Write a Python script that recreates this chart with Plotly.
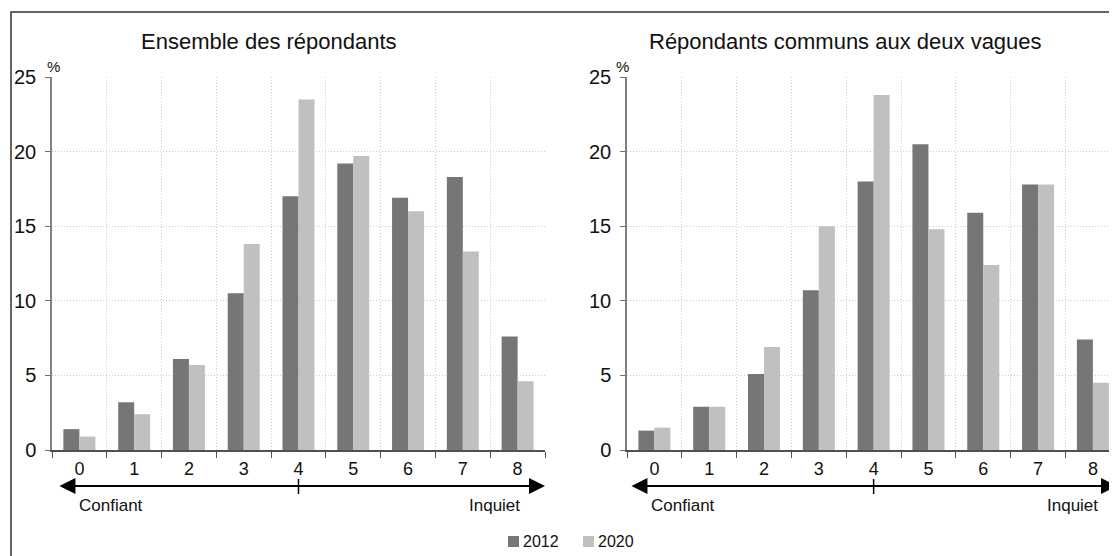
import plotly.graph_objects as go

categories = ["0", "1", "2", "3", "4", "5", "6", "7", "8"]
series_names = ["2012", "2020"]
left_2012 = [1.4, 3.2, 6.1, 10.5, 17.0, 19.2, 16.9, 18.3, 7.6]
left_2020 = [0.9, 2.4, 5.7, 13.8, 23.5, 19.7, 16.0, 13.3, 4.6]
right_2012 = [1.3, 2.9, 5.1, 10.7, 18.0, 20.5, 15.9, 17.8, 7.4]
right_2020 = [1.5, 2.9, 6.9, 15.0, 23.8, 14.8, 12.4, 17.8, 4.5]
panel_titles = ["Ensemble des répondants", "Répondants communs aux deux vagues"]
scale_labels = ["Confiant", "Inquiet"]
y_ticks = [0, 5, 10, 15, 20, 25]

# page body has an 8px margin; design coordinates below are screen pixels
OFF = 8
W, H = 1117 - OFF, 556 - OFF
FONT = "Liberation Sans, Arial, sans-serif"
C2012 = "#767676"
C2020 = "#c0c0c0"
COLORS = [C2012, C2020]
GRID = "#cccccc"

fig = go.Figure()
for vals, name, col in [(left_2012, series_names[0], C2012), (left_2020, series_names[1], C2020)]:
    fig.add_trace(go.Bar(x=categories, y=vals, name=name, marker=dict(color=col, line=dict(width=0)),
                         xaxis="x", yaxis="y", showlegend=False))
for vals, name, col in [(right_2012, series_names[0], C2012), (right_2020, series_names[1], C2020)]:
    fig.add_trace(go.Bar(x=categories, y=vals, name=name, marker=dict(color=col, line=dict(width=0)),
                         xaxis="x2", yaxis="y2", showlegend=False))

def px_x(p):
    return (p - OFF) / W

def px_y(p):
    return 1 - (p - OFF) / H

ydom = [px_y(450), px_y(77)]
xcommon = dict(type="category", tickson="boundaries", ticks="outside", ticklen=6, tickcolor="#505050",
               showline=True, linecolor="#505050", linewidth=1.5, automargin=False,
               showgrid=True, gridcolor=GRID, griddash="1px,2px", gridwidth=1,
               ticklabelstandoff=2,
               tickfont=dict(family=FONT, size=18, color="#111"), fixedrange=True)
ycommon = dict(range=[0, 25], tickvals=y_ticks, ticks="outside", ticklen=5, tickcolor="#707070",
               showline=True, linecolor="#808080", linewidth=1.5, zeroline=False, automargin=False,
               showgrid=True, gridcolor=GRID, griddash="1px,2px", gridwidth=1,
               ticklabelstandoff=5,
               tickfont=dict(family=FONT, size=20, color="#111"), domain=ydom, fixedrange=True)

fig.update_layout(
    width=W, height=H, autosize=False,
    margin=dict(l=0, r=0, t=0, b=0, pad=0, autoexpand=False),
    paper_bgcolor="white", plot_bgcolor="white",
    barmode="group", bargap=0.416, bargroupgap=0,
    font=dict(family=FONT, size=16, color="#111"),
    showlegend=False,
    xaxis=dict(xcommon, domain=[px_x(52), px_x(545)], range=[-0.5, 8.5], anchor="y"),
    yaxis=dict(ycommon, anchor="x"),
    xaxis2=dict(xcommon, domain=[px_x(627), 1.0], range=[-0.5, 8.44], anchor="y2"),
    yaxis2=dict(ycommon, anchor="x2"),
)

annotations = []
shapes = []
annotations.append(dict(text=panel_titles[0], x=px_x(269), y=px_y(42), xref="paper", yref="paper",
                        xanchor="center", yanchor="middle",
                        showarrow=False, font=dict(family=FONT, size=22, color="#111")))
annotations.append(dict(text=panel_titles[1], x=px_x(845), y=px_y(42), xref="paper", yref="paper",
                        xanchor="center", yanchor="middle",
                        showarrow=False, font=dict(family=FONT, size=22, color="#111")))
for xp in [53, 622]:
    annotations.append(dict(text="%", x=px_x(xp), y=px_y(66), xref="paper", yref="paper", showarrow=False,
                            xanchor="center", yanchor="middle",
                            font=dict(family=FONT, size=15, color="#111")))

arrow_y = px_y(486)
for xd, left_tip, right_tip, conf_x, inq_x in [("x domain", 0.012, 1.0, 0.051, 0.953),
                                                ("x2 domain", 0.006, 1.0, 0.045, 0.965)]:
    annotations.append(dict(x=right_tip, y=arrow_y, ax=left_tip, ay=0, xref=xd, yref="paper",
                            axref=xd, ayref="pixel", showarrow=True, arrowhead=2, arrowside="end+start",
                            arrowsize=1.6, arrowwidth=2, arrowcolor="#000", text=""))
    annotations.append(dict(text=scale_labels[0], x=conf_x, y=px_y(505), xref=xd, yref="paper",
                            xanchor="left", yanchor="middle",
                            showarrow=False, font=dict(family=FONT, size=17, color="#111")))
    annotations.append(dict(text=scale_labels[1], x=inq_x, y=px_y(505), xref=xd, yref="paper",
                            xanchor="right", yanchor="middle",
                            showarrow=False, font=dict(family=FONT, size=17, color="#111")))

for xa in ["x", "x2"]:
    shapes.append(dict(type="line", xref=xa, yref="paper", x0=categories[4], x1=categories[4],
                       y0=px_y(479), y1=px_y(494), line=dict(color="#000", width=1.5)))

# legend (compact, as in the reference)
for i, (name, col) in enumerate(zip(series_names, COLORS)):
    sx = 508 + 75 * i
    shapes.append(dict(type="rect", xref="paper", yref="paper", x0=px_x(sx), x1=px_x(sx + 11),
                       y0=px_y(547), y1=px_y(536), line=dict(width=0), fillcolor=col))
    annotations.append(dict(text=name, x=px_x(sx + 13), y=px_y(541.5), xref="paper", yref="paper",
                            xanchor="left", yanchor="middle", showarrow=False,
                            font=dict(family=FONT, size=16, color="#111")))

shapes.append(dict(type="rect", xref="paper", yref="paper", x0=px_x(11), x1=1.01, y0=-0.02, y1=px_y(12),
                   line=dict(color="#333", width=1.5), fillcolor="rgba(0,0,0,0)", layer="below"))

fig.update_layout(annotations=annotations, shapes=shapes)
fig.write_html("out.html")
